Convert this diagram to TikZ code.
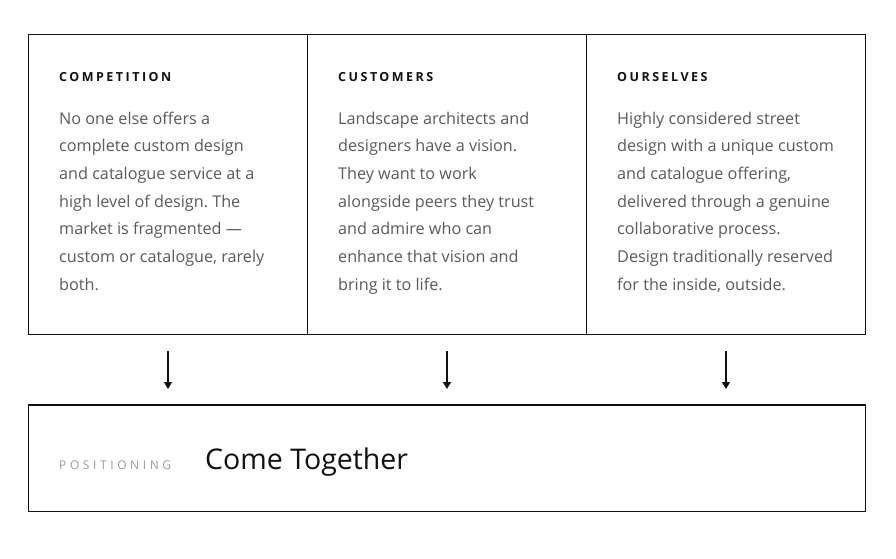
\documentclass[tikz,border=0pt]{standalone}
\usepackage{fontspec}
\setmainfont{Open Sans}
\newfontfamily\headfont[LetterSpace=20]{Open Sans}
\newfontfamily\tagfont[LetterSpace=30]{Open Sans}
\usetikzlibrary{positioning,arrows.meta}
\definecolor{ink}{HTML}{111111}
\definecolor{bodygrey}{HTML}{5A5A5A}
\definecolor{faint}{HTML}{9A9A9A}
\frenchspacing

\begin{document}
\begin{tikzpicture}[
    x=1pt, y=-1pt,
    col/.style={draw=ink, line width=1pt, minimum width=279pt, minimum height=300pt, anchor=north west, inner sep=0pt},
    head/.style={anchor=base west, inner sep=0pt, text=ink, font=\headfont\bfseries\fontsize{12.5}{15}\selectfont},
    copy/.style={anchor=north west, inner sep=0pt, align=left, text=bodygrey, font=\fontsize{16.2}{27.7}\selectfont},
    arr/.style={-{Triangle[width=8pt,length=7pt]}, line width=1.2pt, ink, shorten <=16pt, shorten >=16pt}
  ]
    \useasboundingbox (0,0) rectangle (896,558);

    % three columns
    \node[col] (comp) at (28,34) {};
    \node[col] (cust) at (307,34) {};
    \node[col] (self) at (586,34) {};

    \node[head] (comphead) at (59,81) {COMPETITION};
    \node[head] (custhead) at (338,81) {CUSTOMERS};
    \node[head] (selfhead) at (617,81) {OURSELVES};

    \node[copy] (comptext) at (59,111.5) {No one else offers a\\complete custom design\\and catalogue service at a\\high level of design. The\\market is fragmented ---\\custom or catalogue, rarely\\both.};
    \node[copy] (custtext) at (338,111.5) {Landscape architects and\\designers have a vision.\\They want to work\\alongside peers they trust\\and admire who can\\enhance that vision and\\bring it to life.};
    \node[copy] (selftext) at (617,111.5) {Highly considered street\\design with a unique custom\\and catalogue offering,\\delivered through a genuine\\collaborative process.\\Design traditionally reserved\\for the inside, outside.};

    % positioning box
    \node[draw=ink, line width=1.2pt, minimum width=837pt, minimum height=106pt, anchor=north west, inner sep=0pt] (pos) at (28,405) {};
    \draw[ink, line width=2pt] (pos.north west) -- (pos.north east);
    \node[anchor=base west, inner sep=0pt, text=faint, font=\tagfont\fontsize{12}{14}\selectfont] (postag) at (59,469) {POSITIONING};
    \node[anchor=base west, inner sep=0pt, text=ink, font=\fontsize{28.5}{34}\selectfont] (postitle) at (205,469) {Come Together};

    \draw[arr] (comp.south) -- (comp.south |- pos.north);
    \draw[arr, line width=1.8pt] (cust.south) -- (cust.south |- pos.north);
    \draw[arr] (self.south) -- (self.south |- pos.north);
  \end{tikzpicture}
\end{document}
